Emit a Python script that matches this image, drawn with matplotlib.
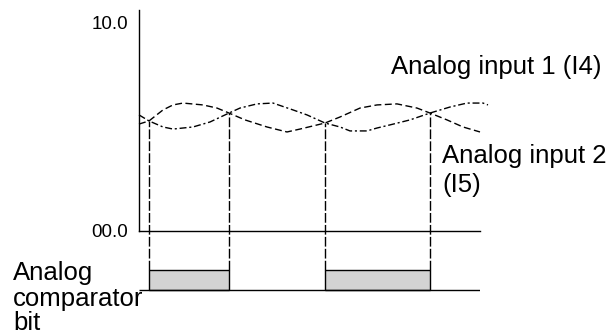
import matplotlib
matplotlib.use("Agg")
import matplotlib.pyplot as plt

# ---- data (time in arbitrary units, level in volts) ----
in1_t = [0.0, 1.0, 2.4, 3.4, 5.4, 7.1, 9.0, 10.1, 11.8, 13.4, 15.4, 16.8, 18.6,
         20.1, 21.1, 22.8, 23.8, 25.1, 27.1, 29.1, 31.1, 32.8, 34.4, 34.9]
in1_v = [5.58, 5.29, 5.00, 4.90, 5.00, 5.24, 5.67, 5.91, 6.11, 6.15, 5.82, 5.58, 5.19,
         5.00, 4.81, 4.81, 4.95, 5.10, 5.34, 5.67, 5.96, 6.15, 6.15, 6.06]

in2_t = [0.0, 1.0, 2.4, 3.4, 4.4, 6.4, 7.8, 9.0, 10.6, 12.8, 14.8, 16.1, 17.4, 18.6,
         20.1, 22.1, 23.8, 25.8, 27.8, 29.1, 30.8, 32.4, 34.1]
in2_v = [5.14, 5.29, 5.82, 6.06, 6.15, 6.06, 5.91, 5.67, 5.34, 5.00, 4.76, 4.90, 5.05, 5.19,
         5.48, 5.91, 6.06, 6.11, 5.91, 5.67, 5.34, 5.00, 4.76]

cross_t = [1.0, 9.0, 18.6, 29.1]
cross_v = [5.29, 5.67, 5.19, 5.67]

bit_on = [1.0, 18.6]
bit_off = [9.0, 29.1]

ytick_vals = [0, 10]
ytick_labels = ["00.0", "10.0"]

# comparator strip sits below the analog axis
bit_low = -2.84
bit_high = -1.87

plt.rcParams['font.family'] = ['Liberation Sans', 'DejaVu Sans']
plt.rcParams['lines.scale_dashes'] = False

W, H = 612, 334
fig = plt.figure(figsize=(W / 100, H / 100), dpi=100)
ax = fig.add_axes([139 / W, 1 - 300 / H, 341 / W, 290 / H])
ax.set_xlim(0, 34.1)
ax.set_ylim(-3.32, 10.625)

lw = 1.0
ax.plot(in1_t, in1_v, color="black", lw=lw, dashes=(5, 2, 1.5, 2), clip_on=False)
ax.plot(in2_t, in2_v, color="black", lw=lw, dashes=(5, 2.5), clip_on=False)

ax.vlines(cross_t, bit_high, cross_v, colors="black", lw=lw, linestyles=(0, (7, 1.6)))

widths = [b - a for a, b in zip(bit_on, bit_off)]
ax.bar(bit_on, [bit_high - bit_low] * len(bit_on), width=widths, bottom=bit_low,
       align="edge", color="#d3d3d3", edgecolor="black", lw=lw, zorder=3)
ax.hlines(bit_low, 0, 34.1, colors="black", lw=lw, zorder=4)

for s in ["top", "right"]:
    ax.spines[s].set_visible(False)
ax.spines["left"].set_bounds(0, 10.625)
ax.spines["bottom"].set_position(("data", 0))
for s in ["left", "bottom"]:
    ax.spines[s].set_linewidth(lw)
ax.set_xticks([])
ax.set_yticks(ytick_vals)
ax.set_yticklabels(ytick_labels)
ax.tick_params(axis="y", length=0, pad=8, labelsize=13.5)

fs = 18.5
def ftext(x, y, s):
    fig.text(x / W, 1 - y / H, s, fontsize=fs, va="baseline", ha="left")

ftext(391, 74, "Analog input 1 (I4)")
ftext(442, 163, "Analog input 2")
ftext(442, 192, "(I5)")
ftext(13, 280, "Analog")
ftext(13, 306, "comparator")
ftext(13, 330, "bit")

fig.savefig("out.png", dpi=100)
